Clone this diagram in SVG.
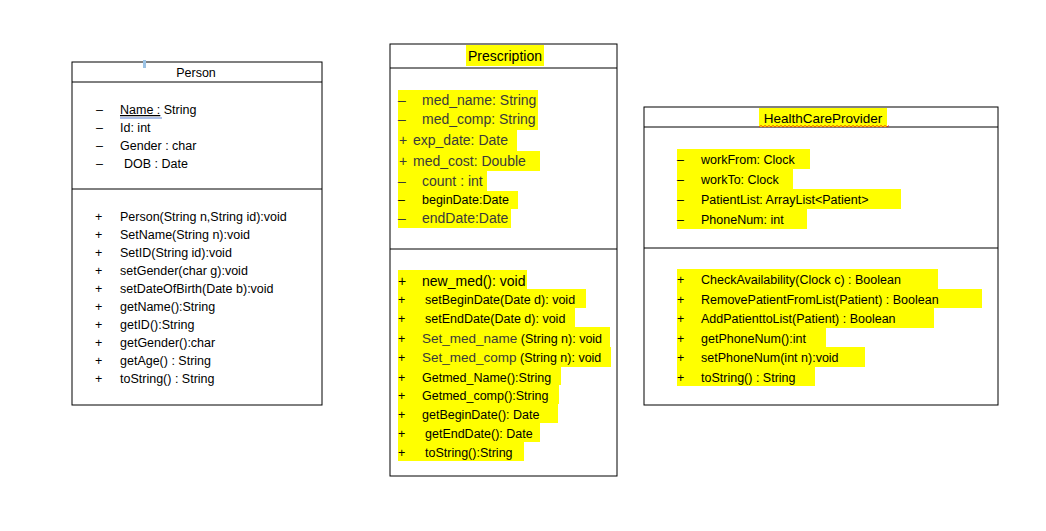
<svg xmlns="http://www.w3.org/2000/svg" width="1046" height="531" viewBox="0 0 1046 531">
<style>
text{font-family:"Liberation Sans",Arial,sans-serif;font-size:12.5px;fill:#000}
.g{fill:#3a3a3a;font-size:14px}
.box{fill:#fff;stroke:#000;stroke-width:1}
.hl{fill:#ffff00}
</style>
<rect width="1046" height="531" fill="#fff"/>
<g id="person">
<rect class="box" x="72" y="62" width="250" height="343"/>
<line x1="72" y1="82" x2="322" y2="82" stroke="#000"/>
<line x1="72" y1="189" x2="322" y2="189" stroke="#000"/>
<rect x="143" y="60" width="3" height="8" fill="#9cc3e5"/>
<text x="196" y="77" text-anchor="middle">Person</text>
<g>
<text x="96" y="114">–</text><text x="120" y="114"><tspan text-decoration="underline">Name :</tspan> String</text>
<text x="96" y="132">–</text><text x="120" y="132">Id: int</text>
<text x="96" y="150">–</text><text x="120" y="150">Gender : char</text>
<text x="96" y="168">–</text><text x="124" y="168">DOB : Date</text>
</g>
<line x1="120" y1="118" x2="162" y2="118" stroke="#2f5fc8" stroke-width="0.8"/>
<g>
<text x="95" y="221">+</text><text x="120" y="221">Person(String n,String id):void</text>
<text x="95" y="239">+</text><text x="120" y="239">SetName(String n):void</text>
<text x="95" y="257">+</text><text x="120" y="257">SetID(String id):void</text>
<text x="95" y="275">+</text><text x="120" y="275">setGender(char g):void</text>
<text x="95" y="293">+</text><text x="120" y="293">setDateOfBirth(Date b):void</text>
<text x="95" y="311">+</text><text x="120" y="311">getName():String</text>
<text x="95" y="329">+</text><text x="120" y="329">getID():String</text>
<text x="95" y="347">+</text><text x="120" y="347">getGender():char</text>
<text x="95" y="365">+</text><text x="120" y="365">getAge() : String</text>
<text x="95" y="383">+</text><text x="120" y="383">toString() : String</text>
</g>
</g>
<g id="prescription">
<rect class="box" x="390" y="44" width="227" height="432"/>
<line x1="390" y1="68" x2="617" y2="68" stroke="#000"/>
<line x1="390" y1="249" x2="617" y2="249" stroke="#000"/>
<rect class="hl" x="466" y="45" width="78" height="21"/>
<text x="505" y="61" text-anchor="middle" style="font-size:14px">Prescription</text>
<rect class="hl" x="398" y="90" width="140" height="20"/>
<rect class="hl" x="398" y="110" width="140" height="20"/>
<rect class="hl" x="398" y="130" width="119" height="21"/>
<rect class="hl" x="398" y="151" width="142" height="20"/>
<rect class="hl" x="398" y="171" width="89" height="20"/>
<rect class="hl" x="398" y="191" width="120" height="18"/>
<rect class="hl" x="398" y="209" width="113" height="19"/>
<text class="g" x="398" y="105">–</text><text class="g" x="422" y="105">med_name: String</text>
<text class="g" x="398" y="124">–</text><text class="g" x="422" y="124">med_comp: String</text>
<text class="g" x="399" y="145">+</text><text class="g" x="413" y="145">exp_date: Date</text>
<text class="g" x="399" y="166">+</text><text class="g" x="413" y="166">med_cost: Double</text>
<text class="g" x="398" y="186">–</text><text class="g" x="422" y="186">count : int</text>
<text x="398" y="204">–</text><text x="422" y="204">beginDate:Date</text>
<text class="g" x="398" y="223">–</text><text class="g" x="422" y="223">endDate:Date</text>
<rect class="hl" x="398" y="270" width="129" height="19"/>
<rect class="hl" x="398" y="289" width="188" height="19"/>
<rect class="hl" x="398" y="308" width="177" height="19"/>
<rect class="hl" x="398" y="327" width="212" height="20"/>
<rect class="hl" x="398" y="347" width="213" height="20"/>
<rect class="hl" x="398" y="367" width="163" height="18"/>
<rect class="hl" x="398" y="385" width="161" height="19"/>
<rect class="hl" x="398" y="404" width="160" height="19"/>
<rect class="hl" x="398" y="423" width="142" height="19"/>
<rect class="hl" x="398" y="442" width="126" height="19"/>
<text x="398" y="286" style="font-size:14px">+</text><text x="422" y="286" style="font-size:14px">new_med(): void</text>
<text x="398" y="304">+</text><text x="425" y="304">setBeginDate(Date d): void</text>
<text x="398" y="323">+</text><text x="425" y="323">setEndDate(Date d): void</text>
<text x="398" y="343">+</text><text x="422" y="343"><tspan class="g" style="font-size:13.5px">Set_med_name</tspan> (String n): void</text>
<text x="398" y="362">+</text><text x="422" y="362"><tspan class="g" style="font-size:13.5px">Set_med_comp</tspan> (String n): void</text>
<text x="398" y="382">+</text><text x="422" y="382">Getmed_Name():String</text>
<text x="398" y="400">+</text><text x="422" y="400">Getmed_comp():String</text>
<text x="398" y="419">+</text><text x="422" y="419">getBeginDate(): Date</text>
<text x="398" y="438">+</text><text x="425" y="438">getEndDate(): Date</text>
<text x="398" y="457">+</text><text x="425" y="457">toString():String</text>
</g>
<g id="healthcareprovider">
<rect class="box" x="644" y="107" width="354" height="298"/>
<line x1="644" y1="127" x2="998" y2="127" stroke="#000"/>
<line x1="644" y1="248" x2="998" y2="248" stroke="#000"/>
<rect class="hl" x="759" y="108" width="128" height="19"/>
<text x="823" y="123" text-anchor="middle" style="font-size:13.5px">HealthCareProvider</text>
<path d="M759 127 l2 -1.5 l2 1.5 l2 -1.5 l2 1.5 l2 -1.5 l2 1.5 l2 -1.5 l2 1.5 l2 -1.5 l2 1.5 l2 -1.5 l2 1.5 l2 -1.5 l2 1.5 l2 -1.5 l2 1.5 l2 -1.5 l2 1.5 l2 -1.5 l2 1.5 l2 -1.5 l2 1.5 l2 -1.5 l2 1.5 l2 -1.5 l2 1.5 l2 -1.5 l2 1.5 l2 -1.5 l2 1.5 l2 -1.5 l2 1.5 l2 -1.5 l2 1.5 l2 -1.5 l2 1.5 l2 -1.5 l2 1.5 l2 -1.5 l2 1.5 l2 -1.5 l2 1.5 l2 -1.5 l2 1.5 l2 -1.5 l2 1.5 l2 -1.5 l2 1.5 l2 -1.5 l2 1.5 l2 -1.5 l2 1.5 l2 -1.5 l2 1.5 l2 -1.5 l2 1.5 l2 -1.5 l2 1.5 l2 -1.5 l2 1.5 l2 -1.5 l2 1.5 l2 -1.5 l2 1.5 l2 -1.5" fill="none" stroke="#e00000" stroke-width="0.7"/>
<rect class="hl" x="677" y="149" width="133" height="20"/>
<rect class="hl" x="677" y="169" width="116" height="20"/>
<rect class="hl" x="677" y="189" width="224" height="20"/>
<rect class="hl" x="677" y="209" width="130" height="20"/>
<text x="677" y="164">–</text><text x="701" y="164">workFrom: Clock</text>
<text x="677" y="184">–</text><text x="701" y="184">workTo: Clock</text>
<text x="677" y="204">–</text><text x="701" y="204">PatientList: ArrayList&lt;Patient&gt;</text>
<text x="677" y="224">–</text><text x="701" y="224">PhoneNum: int</text>
<rect class="hl" x="677" y="269" width="261" height="20"/>
<rect class="hl" x="677" y="289" width="305" height="19"/>
<rect class="hl" x="677" y="308" width="257" height="20"/>
<rect class="hl" x="677" y="328" width="149" height="19"/>
<rect class="hl" x="677" y="347" width="188" height="20"/>
<rect class="hl" x="677" y="367" width="138" height="19"/>
<text x="677" y="284">+</text><text x="701" y="284">CheckAvailability(Clock c) : Boolean</text>
<text x="677" y="304">+</text><text x="701" y="304">RemovePatientFromList(Patient) : Boolean</text>
<text x="677" y="323">+</text><text x="701" y="323">AddPatienttoList(Patient) : Boolean</text>
<text x="677" y="343">+</text><text x="701" y="343">getPhoneNum():int</text>
<text x="677" y="362">+</text><text x="701" y="362">setPhoneNum(int n):void</text>
<text x="677" y="382">+</text><text x="701" y="382">toString() : String</text>
</g>
<g id="connectors"></g>
</svg>
